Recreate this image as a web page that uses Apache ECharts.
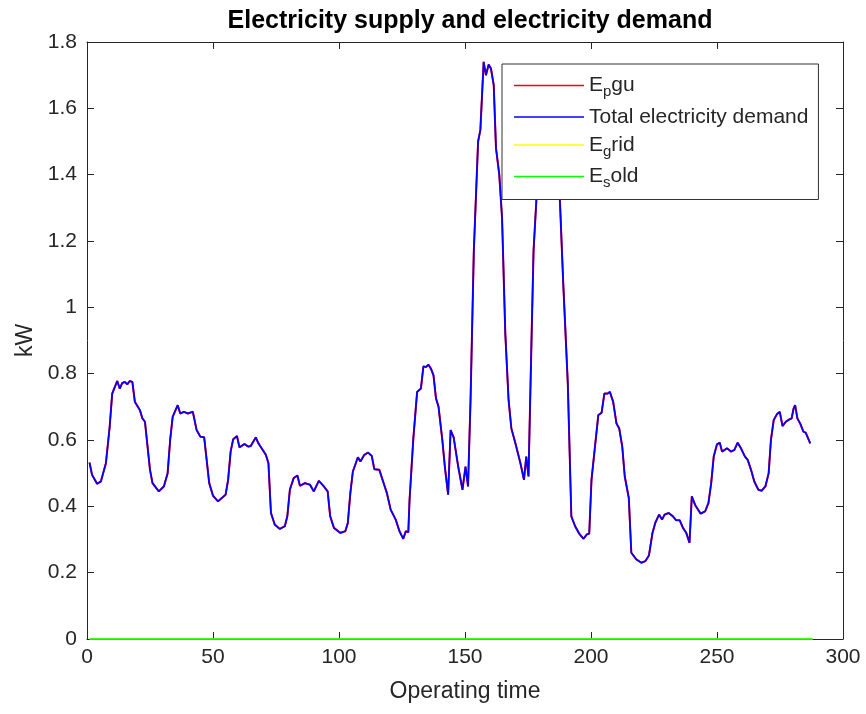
<!DOCTYPE html>
<html lang="en">
<head>
    <meta charset="UTF-8">
    <title>Electricity supply and electricity demand</title>
    <style>
        html, body { margin: 0; padding: 0; background: #fff; }
        #main { width: 866px; height: 714px; }
    </style>
</head>
<body>
<div id="main"></div>
<script src="https://cdn.jsdelivr.net/npm/echarts@6/dist/echarts.min.js"></script>
<script>
    // operating time steps (5 min steps, 1..288)
    var timeSteps = [
        1, 2, 4, 5.5, 7.5, 9, 10, 12, 13, 14, 15, 16, 17, 18, 19, 21, 22, 23, 25, 26,
        28.5, 30.5, 32, 33, 34, 36, 37, 38.5, 40, 42, 43.5, 45, 46.5, 48.5, 50, 52, 55, 56, 57, 58,
        59.5, 60.5, 62.5, 64, 65, 67, 68, 70, 71, 72, 73, 74.5, 76.5, 78.5, 79.5, 80.5, 82, 83.5, 84.5, 86.5,
        88.5, 90, 92, 94, 95.5, 96.5, 98, 100.5, 102.5, 103.5, 104.5, 105.5, 107.5, 108.5, 110, 111.5, 113, 114, 116, 117.5,
        119, 120.5, 122.5, 124, 125.5, 126.5, 127.5, 128, 129.5, 131, 132.5, 133.5, 134.5, 135.5, 136.5, 137.5, 138.5, 139.5, 141, 142,
        143.3, 144.3, 145.5, 147.3, 149, 150.2, 151.2, 152.2, 153.5, 155.2, 156.1, 157.4, 158.3, 159.4, 160.3, 161.4, 162.3, 163.6, 164.7, 166,
        167.3, 168.4, 170, 172, 173.4, 174.3, 175.2, 176.3, 177.2, 178.3, 180, 182, 184, 186, 187.7, 189, 190.8, 192.2, 193.7, 195.3,
        197, 198.3, 199.3, 200.2, 201.3, 202.9, 204.2, 205.3, 206.6, 207.5, 208.8, 210.1, 211.2, 212.4, 213.4, 215, 216, 218, 220, 221.6,
        223, 224.4, 225.5, 227, 228.2, 229.2, 230.8, 232.5, 233.8, 235.2, 236.5, 237.8, 239.1, 240, 241.4, 243.5, 245.3, 246.6, 247.7, 248.7,
        250, 251.1, 252, 254, 255.6, 256.9, 258.2, 259.5, 261.1, 262.2, 263.5, 264.8, 266.4, 267.7, 269.2, 270.5, 271.4, 272.5, 273.8, 274.9,
        276, 277.3, 278.7, 279.6, 280.4, 281, 281.9, 283, 284.3, 285.2, 285.9, 287
    ];
    // total electricity demand, kW
    var demandKW = [
        0.532, 0.495, 0.468, 0.475, 0.53, 0.64, 0.74, 0.778, 0.755, 0.772, 0.775, 0.768, 0.778, 0.775, 0.715, 0.69, 0.665, 0.655, 0.51, 0.47,
        0.445, 0.46, 0.5, 0.6, 0.67, 0.705, 0.68, 0.685, 0.68, 0.685, 0.63, 0.61, 0.608, 0.47, 0.432, 0.415, 0.435, 0.48, 0.565, 0.602,
        0.612, 0.578, 0.588, 0.58, 0.582, 0.608, 0.59, 0.567, 0.555, 0.53, 0.38, 0.345, 0.332, 0.34, 0.37, 0.45, 0.485, 0.493, 0.462, 0.47,
        0.465, 0.445, 0.477, 0.46, 0.445, 0.37, 0.335, 0.32, 0.325, 0.35, 0.44, 0.505, 0.548, 0.535, 0.555, 0.562, 0.552, 0.512, 0.51, 0.475,
        0.44, 0.39, 0.36, 0.325, 0.302, 0.325, 0.322, 0.42, 0.605, 0.745, 0.755, 0.822, 0.82, 0.827, 0.815, 0.795, 0.725, 0.7, 0.6, 0.52,
        0.435, 0.63, 0.608, 0.52, 0.45, 0.52, 0.46, 0.72, 1.17, 1.5, 1.535, 1.74, 1.70, 1.732, 1.72, 1.67, 1.48, 1.40, 1.27, 0.92,
        0.72, 0.635, 0.59, 0.53, 0.48, 0.55, 0.49, 0.87, 1.17, 1.32, 1.55, 1.65, 1.62, 1.5, 1.315, 1.07, 0.77, 0.37, 0.34, 0.318,
        0.302, 0.315, 0.318, 0.48, 0.56, 0.675, 0.682, 0.74, 0.74, 0.745, 0.715, 0.65, 0.635, 0.58, 0.49, 0.425, 0.26, 0.24, 0.23, 0.235,
        0.252, 0.32, 0.35, 0.375, 0.36, 0.375, 0.38, 0.37, 0.358, 0.358, 0.335, 0.32, 0.29, 0.43, 0.403, 0.378, 0.385, 0.41, 0.47, 0.55,
        0.587, 0.592, 0.565, 0.575, 0.565, 0.57, 0.592, 0.575, 0.55, 0.54, 0.51, 0.475, 0.45, 0.447, 0.46, 0.5, 0.6, 0.66, 0.678, 0.685,
        0.642, 0.655, 0.662, 0.665, 0.695, 0.705, 0.665, 0.65, 0.625, 0.622, 0.625, 0.59
    ];
    // grid and sold electricity stay at zero over the whole run
    var zeroTimes = [1, 288];
    var gridKW = [0, 0];
    var soldKW = [0, 0];

    var xTicks = [0, 50, 100, 150, 200, 250, 300];
    var yTicks = [0, 0.2, 0.4, 0.6, 0.8, 1, 1.2, 1.4, 1.6, 1.8];

    var seriesNames = ['Epgu', 'Total electricity demand', 'Egrid', 'Esold'];
    var legendText = {
        'Epgu': 'E{sub|p}gu',
        'Total electricity demand': 'Total electricity demand',
        'Egrid': 'E{sub|g}rid',
        'Esold': 'E{sub|s}old'
    };

    function pairs(xs, ys) {
        return xs.map(function (x, i) { return [x, ys[i]]; });
    }

    var txt = '#262626';
    var axisCol = '#262626';
    var font = '"Liberation Sans", Arial, sans-serif';
    var lineIcon = 'path://M0,0H70V1.3H0Z';

    function xAx(pos, show) {
        return {
            type: 'value', position: pos,
            min: xTicks[0], max: xTicks[xTicks.length - 1], interval: 50,
            name: show ? 'Operating time' : '', nameLocation: 'middle', nameGap: 41,
            nameTextStyle: { color: txt, fontSize: 23, fontFamily: font },
            axisLine: { show: true, onZero: false, lineStyle: { color: axisCol, width: 1 } },
            axisTick: { show: true, inside: true, length: 7, lineStyle: { color: axisCol } },
            axisLabel: { show: show, color: txt, fontSize: 21, fontFamily: font, margin: 8 },
            splitLine: { show: false }
        };
    }
    function yAx(pos, show) {
        return {
            type: 'value', position: pos,
            min: yTicks[0], max: yTicks[yTicks.length - 1], interval: 0.2,
            name: show ? 'kW' : '', nameLocation: 'middle', nameGap: 49, nameRotate: 90,
            nameTextStyle: { color: txt, fontSize: 23, fontFamily: font },
            axisLine: { show: true, onZero: false, lineStyle: { color: axisCol, width: 1 } },
            axisTick: { show: true, inside: true, length: 7, lineStyle: { color: axisCol } },
            axisLabel: {
                show: show, color: txt, fontSize: 21, fontFamily: font, margin: 10,
                formatter: function (v) { return String(+v.toFixed(1)); }
            },
            splitLine: { show: false }
        };
    }

    var chart = echarts.init(document.getElementById('main'));
    chart.setOption({
        animation: false,
        backgroundColor: '#fff',
        title: {
            text: 'Electricity supply and electricity demand',
            left: 465, top: 4, textAlign: 'center',
            textStyle: { color: '#000', fontSize: 25, fontWeight: 'bold', fontFamily: font }
        },
        grid: { left: 87, right: 23, top: 42, bottom: 75 },
        xAxis: [xAx('bottom', true), xAx('top', false)],
        yAxis: [yAx('left', true), yAx('right', false)],
        legend: {
            orient: 'vertical',
            left: 502, top: 64,
            data: seriesNames.map(function (n) { return { name: n, icon: lineIcon }; }),
            itemWidth: 70, itemHeight: 20, itemGap: 7,
            padding: [11, 10, 9, 12],
            backgroundColor: '#fff',
            borderColor: '#333', borderWidth: 1, borderRadius: 0,
            formatter: function (n) { return legendText[n]; },
            textStyle: {
                color: txt, fontSize: 21, fontFamily: font,
                rich: { sub: { fontSize: 15, fontFamily: font, color: txt, padding: [13, 0, 0, 0] } }
            },
            z: 10
        },
        series: [
            { name: seriesNames[0], type: 'line', data: pairs(timeSteps, demandKW), symbol: 'none',
              lineStyle: { color: '#ff0000', width: 2 }, itemStyle: { color: '#ff0000' } },
            { name: seriesNames[1], type: 'line', data: pairs(timeSteps, demandKW), symbol: 'none',
              lineStyle: { color: '#0000ff', width: 1.7 }, itemStyle: { color: '#0000ff' } },
            { name: seriesNames[2], type: 'line', data: pairs(zeroTimes, gridKW), symbol: 'none',
              lineStyle: { color: '#ffff00', width: 1.5 }, itemStyle: { color: '#ffff00' } },
            { name: seriesNames[3], type: 'line', data: pairs(zeroTimes, soldKW), symbol: 'none',
              lineStyle: { color: '#00ff00', width: 1.5 }, itemStyle: { color: '#00ff00' } }
        ]
    });
</script>
</body>
</html>
